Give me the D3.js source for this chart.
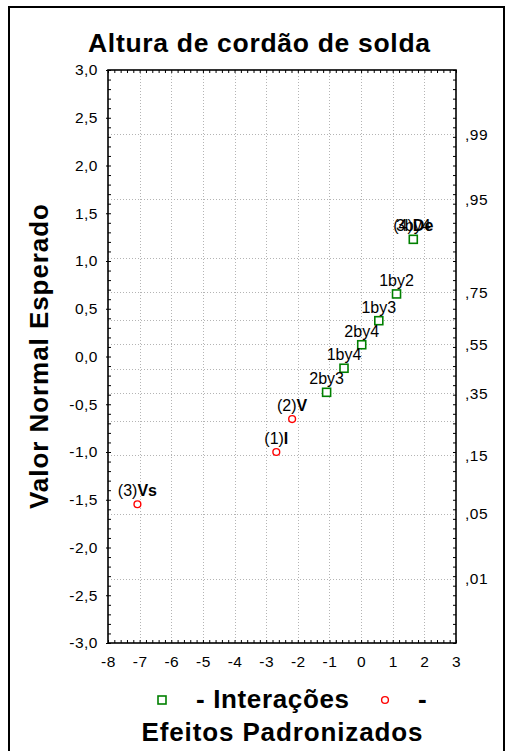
<!DOCTYPE html>
<html>
<head>
<meta charset="utf-8">
<script src="https://cdn.jsdelivr.net/npm/d3@7"></script>
<style>
  html, body { margin: 0; padding: 0; background: #fff; }
  svg { display: block; font-family: "Liberation Sans", Arial, sans-serif; }
</style>
</head>
<body>
<svg id="chart" width="509" height="751"></svg>
<script>
// Standardized effects (x) and expected normal values (y)
const effectLabels = ["(3)", "(1)", "(2)", "2by3", "1by4", "2by4", "1by3", "1by2", "3by4", "(4)"];
const effectNames  = ["Vs",  "I",   "V",   "",     "",     "",     "",     "",     "",     "De"];
const effectKind   = ["main","main","main","inter","inter","inter","inter","inter","inter","main"];
const effectValues = [-7.07, -2.68, -2.18, -1.09, -0.54, 0.02, 0.56, 1.12, 1.65, 1.65];
const expectedNormal = [-1.547, -1.0, -0.655, -0.375, -0.123, 0.123, 0.375, 0.655, 1.227, 1.227];

const xTicks = [-8, -7, -6, -5, -4, -3, -2, -1, 0, 1, 2, 3];
const yTicks = [-3, -2.5, -2, -1.5, -1, -0.5, 0, 0.5, 1, 1.5, 2, 2.5, 3];
const probLabels = [0.01, 0.05, 0.15, 0.35, 0.55, 0.75, 0.95, 0.99];
const probGrid = [0.01, 0.05, 0.15, 0.25, 0.35, 0.45, 0.55, 0.65, 0.75, 0.85, 0.95, 0.99];

const titleText = "Altura de cordão de solda";
const yTitleText = "Valor Normal Esperado";
const legendInter = "- Interações";
const legendMain1 = "-";
const legendMain2 = "Efeitos Padronizados";

// inverse standard normal CDF (Acklam's rational approximation)
function probit(p) {
  const a = [-3.969683028665376e+01, 2.209460984245205e+02, -2.759285104469687e+02, 1.383577518672690e+02, -3.066479806614716e+01, 2.506628277459239e+00];
  const b = [-5.447609879822406e+01, 1.615858368580409e+02, -1.556989798598866e+02, 6.680131188771972e+01, -1.328068155288572e+01];
  const c = [-7.784894002430293e-03, -3.223964580411365e-01, -2.400758277161838e+00, -2.549732539343734e+00, 4.374664141464968e+00, 2.938163982698783e+00];
  const d = [7.784695709041462e-03, 3.224671290700398e-01, 2.445134137142996e+00, 3.754408661907416e+00];
  const pl = 0.02425, ph = 1 - pl;
  let q, r;
  if (p < pl) {
    q = Math.sqrt(-2 * Math.log(p));
    return (((((c[0]*q+c[1])*q+c[2])*q+c[3])*q+c[4])*q+c[5]) / ((((d[0]*q+d[1])*q+d[2])*q+d[3])*q+1);
  }
  if (p > ph) {
    q = Math.sqrt(-2 * Math.log(1 - p));
    return -(((((c[0]*q+c[1])*q+c[2])*q+c[3])*q+c[4])*q+c[5]) / ((((d[0]*q+d[1])*q+d[2])*q+d[3])*q+1);
  }
  q = p - 0.5; r = q * q;
  return (((((a[0]*r+a[1])*r+a[2])*r+a[3])*r+a[4])*r+a[5])*q / (((((b[0]*r+b[1])*r+b[2])*r+b[3])*r+b[4])*r+1);
}

const svg = d3.select("#chart");
const plot = { left: 108, right: 456, top: 70, bottom: 643 };

const x = d3.scaleLinear().domain([-8, 3]).range([plot.left, plot.right]);
const y = d3.scaleLinear().domain([-3, 3]).range([plot.bottom, plot.top]);

// outer frame
svg.append("rect")
  .attr("x", 9).attr("y", 7).attr("width", 495).attr("height", 770)
  .attr("fill", "none").attr("stroke", "#000").attr("stroke-width", 2);

// title
svg.append("text")
  .attr("x", 259).attr("y", 52)
  .attr("text-anchor", "middle")
  .attr("font-size", 26.5).attr("font-weight", "bold")
  .attr("textLength", 342).attr("lengthAdjust", "spacing")
  .text(titleText);

// grid
const grid = svg.append("g").attr("stroke", "#b4b4b4").attr("stroke-width", 1).attr("stroke-dasharray", "1,2");
grid.selectAll("line.v").data(xTicks.slice(1, -1)).join("line")
  .attr("x1", d => Math.round(x(d)) + 0.5).attr("x2", d => Math.round(x(d)) + 0.5)
  .attr("y1", plot.top).attr("y2", plot.bottom);
grid.selectAll("line.h").data(probGrid).join("line")
  .attr("y1", d => Math.round(y(probit(d))) + 0.5).attr("y2", d => Math.round(y(probit(d))) + 0.5)
  .attr("x1", plot.left).attr("x2", plot.right);

const fmtY = d => d.toFixed(1).replace(".", ",").replace(/^-0,0$/, "0,0");
const minorY = d3.range(-30, 31).map(i => i / 10);
const minorX = d3.range(-40, 16).map(i => i / 5);

function styleAxis(g) {
  g.select(".domain").remove();
  g.selectAll("line").attr("stroke", "#000");
  g.selectAll("text").attr("fill", "#000").attr("font-size", 15.5)
    .attr("letter-spacing", 0.5)
    .attr("font-family", "'Liberation Sans', Arial, sans-serif");
}

// left axis: labels with short outer ticks, minor inner ticks
svg.append("g").attr("transform", `translate(${plot.left},0)`)
  .call(d3.axisLeft(y).tickValues(yTicks).tickFormat(fmtY).tickSizeInner(2).tickSizeOuter(0).tickPadding(8))
  .call(styleAxis);
svg.append("g").attr("transform", `translate(${plot.left},0)`)
  .call(d3.axisRight(y).tickValues(minorY).tickFormat("").tickSizeInner(3).tickSizeOuter(0))
  .call(styleAxis);

// right axis: cumulative probability labels, minor inner ticks
svg.append("g").attr("transform", `translate(${plot.right},0)`)
  .call(d3.axisLeft(y).tickValues(minorY).tickFormat("").tickSizeInner(3).tickSizeOuter(0))
  .call(styleAxis);
svg.append("g").attr("transform", `translate(${plot.right},0)`)
  .selectAll("text").data(probLabels).join("text")
  .attr("x", 9).attr("y", d => y(probit(d))).attr("dy", "0.35em")
  .attr("font-size", 15.5).attr("letter-spacing", 0.5).attr("fill", "#000")
  .text(d => d3.format(".2f")(d).replace(/^0\./, ","));

// top axis: minor ticks
svg.append("g").attr("transform", `translate(0,${plot.top})`)
  .call(d3.axisBottom(x).tickValues(minorX).tickFormat("").tickSizeInner(3).tickSizeOuter(0))
  .call(styleAxis);

// bottom axis: minor ticks and integer labels
svg.append("g").attr("transform", `translate(0,${plot.bottom})`)
  .call(d3.axisTop(x).tickValues(minorX).tickFormat("").tickSizeInner(3).tickSizeOuter(0))
  .call(styleAxis);
svg.append("g").attr("transform", `translate(0,${plot.bottom})`)
  .call(d3.axisBottom(x).tickValues(xTicks).tickFormat(d => String(d)).tickSizeInner(0).tickSizeOuter(0).tickPadding(13))
  .call(styleAxis);

// plot frame
svg.append("rect")
  .attr("x", plot.left).attr("y", plot.top)
  .attr("width", plot.right - plot.left).attr("height", plot.bottom - plot.top)
  .attr("fill", "none").attr("stroke", "#000").attr("stroke-width", 1.6);

// y axis title
svg.append("text")
  .attr("transform", `translate(48,${(plot.top + plot.bottom) / 2}) rotate(-90)`)
  .attr("text-anchor", "middle")
  .attr("font-size", 26).attr("font-weight", "bold")
  .attr("textLength", 305).attr("lengthAdjust", "spacing")
  .text(yTitleText);

// points
const pts = effectValues.map((v, i) => ({
  v, z: expectedNormal[i], label: effectLabels[i], name: effectNames[i], kind: effectKind[i]
}));
const order = pts.filter(d => d.kind === "main").concat(pts.filter(d => d.kind === "inter"));

const marks = svg.append("g");
marks.selectAll("circle").data(order.filter(d => d.kind === "main")).join("circle")
  .attr("cx", d => x(d.v)).attr("cy", d => y(d.z)).attr("r", 3.4)
  .attr("fill", "#fff").attr("stroke", "#ff0000").attr("stroke-width", 1.4);
marks.selectAll("rect").data(order.filter(d => d.kind === "inter")).join("rect")
  .attr("x", d => x(d.v) - 4).attr("y", d => y(d.z) - 4)
  .attr("width", 8).attr("height", 8)
  .attr("fill", "#fff").attr("stroke", "#008000").attr("stroke-width", 1.6);

// point labels
const lab = svg.append("g").attr("font-size", 16).attr("fill", "#000");
order.forEach(d => {
  const t = lab.append("text")
    .attr("x", x(d.v)).attr("y", y(d.z) - 8)
    .attr("text-anchor", "middle");
  t.append("tspan").text(d.label);
  if (d.name) t.append("tspan").attr("font-weight", "bold").text(d.name);
});

// legend
const lg = svg.append("g");
lg.append("rect").attr("x", 158).attr("y", 696).attr("width", 8).attr("height", 8)
  .attr("fill", "#fff").attr("stroke", "#008000").attr("stroke-width", 1.6);
lg.append("text").attr("x", 196).attr("y", 708)
  .attr("font-size", 26).attr("font-weight", "bold")
  .attr("textLength", 153).attr("lengthAdjust", "spacing")
  .text(legendInter);
lg.append("circle").attr("cx", 385).attr("cy", 700).attr("r", 3.4)
  .attr("fill", "#fff").attr("stroke", "#ff0000").attr("stroke-width", 1.4);
lg.append("text").attr("x", 418).attr("y", 708)
  .attr("font-size", 26).attr("font-weight", "bold")
  .text(legendMain1);
lg.append("text").attr("x", 282).attr("y", 741)
  .attr("text-anchor", "middle")
  .attr("font-size", 26).attr("font-weight", "bold")
  .attr("textLength", 281).attr("lengthAdjust", "spacing")
  .text(legendMain2);
</script>
</body>
</html>
